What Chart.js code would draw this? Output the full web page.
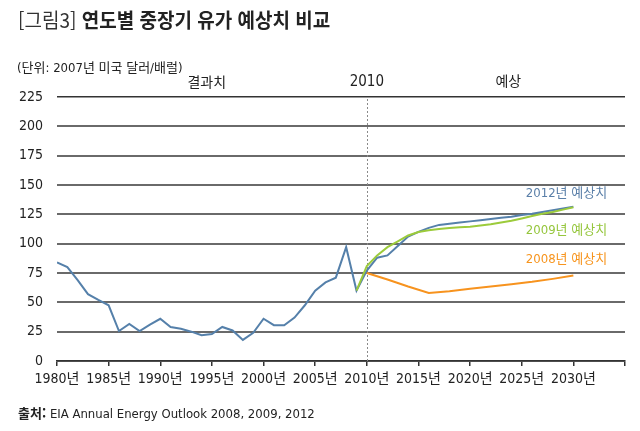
<!DOCTYPE html>
<html lang="ko">
<head>
<meta charset="utf-8">
<script src="https://cdn.jsdelivr.net/npm/chart.js@4.4.1/dist/chart.umd.min.js"></script>
<style>
html, body { margin: 0; padding: 0; background: #fff; }
#wrap { position: relative; width: 640px; height: 431px; overflow: hidden; }
#c { position: absolute; left: 0; top: 0; }
.txt { position: absolute; white-space: nowrap; transform-origin: 0 0; color: #222;
       font-family: "DejaVu Sans Condensed", "Noto Sans CJK KR", sans-serif; line-height: 1; }
#title { left: 18px; top: 10px; font-size: 20px; font-family: "Noto Sans CJK KR", sans-serif;
         font-weight: 700; transform: scaleX(0.95); }
#title span { font-weight: 400; color: #333; }
#unit { left: 17px; top: 61px; font-size: 13px; }
#src { left: 18px; top: 406px; font-size: 13px; }
#src b { font-family: "Noto Sans CJK KR", sans-serif; font-weight: 700; }
</style>
</head>
<body>
<div id="wrap">
  <canvas id="c" width="640" height="431"></canvas>
  <div class="txt" id="title"><span>[그림3]</span> 연도별 중장기 유가 예상치 비교</div>
  <div class="txt" id="unit">(단위: 2007년 미국 달러/배럴)</div>
  <div class="txt" id="src"><b>출처:</b> EIA Annual Energy Outlook 2008, 2009, 2012</div>
</div>
<script>
// 실적 + 2012년 예상치 (파란선)
const years2012 = [1980, 1981, 1982, 1983, 1984, 1985, 1986, 1987, 1988, 1989,
                   1990, 1991, 1992, 1993, 1994, 1995, 1996, 1997, 1998, 1999,
                   2000, 2001, 2002, 2003, 2004, 2005, 2006, 2007, 2008, 2009,
                   2010, 2011, 2012, 2013, 2014, 2015, 2016, 2017, 2018, 2019,
                   2020, 2021, 2022, 2023, 2024, 2025, 2026, 2027, 2028, 2029, 2030];
const price2012 = [84, 80, 69, 57, 52, 47.5, 25.5, 31.5, 25.5, 31,
                   36, 29, 27.5, 25, 22, 23, 29, 26, 18, 24,
                   36, 30.5, 30.5, 37, 47.5, 60, 67, 71, 97, 60,
                   77, 88, 90, 98, 106, 110, 113.5, 116, 117, 118,
                   119, 120, 121, 122, 123, 124.5, 125.5, 127, 128.5, 130, 131.5];

// 2009년 예상치 (초록선)
const years2009 = [2009, 2010, 2011, 2012, 2013, 2014, 2015, 2016, 2017, 2018, 2019,
                   2020, 2021, 2022, 2023, 2024, 2025, 2026, 2027, 2028, 2029, 2030];
const price2009 = [60, 81, 90, 97, 102, 107, 110, 111.5, 112.5, 113.3, 114,
                   114.5, 115.5, 116.5, 118, 119.5, 121.5, 123.5, 125.5, 127, 129, 131];

// 2008년 예상치 (주황선)
const years2008 = [2010, 2012, 2014, 2016, 2018, 2020, 2022, 2024, 2026, 2028, 2030];
const price2008 = [75, 69.5, 63.5, 58, 59.5, 61.5, 63.5, 65.5, 67.5, 70, 72.8];

const yTicks = [0, 25, 50, 75, 100, 125, 150, 175, 200, 225];

const NARROW = '"DejaVu Sans Condensed", "Noto Sans CJK KR", sans-serif';

function toPoints(xs, ys) {
    return xs.map((x, i) => ({ x: x, y: ys[i] }));
}

// 2010 점선, 주석 텍스트
const notesPlugin = {
    id: 'notes',
    beforeDatasetsDraw(chart) {
        const { ctx, chartArea, scales } = chart;
        const x10 = Math.round(scales.x.getPixelForValue(2010)) + 0.5;
        ctx.save();
        ctx.strokeStyle = '#8a8a8a';
        ctx.lineWidth = 1;
        ctx.setLineDash([2, 2]);
        ctx.beginPath();
        ctx.moveTo(x10, chartArea.top + 2);
        ctx.lineTo(x10, chartArea.bottom);
        ctx.stroke();
        ctx.restore();
    },
    afterDraw(chart) {
        const { ctx, chartArea, scales } = chart;
        const x = scales.x, y = scales.y;
        ctx.save();
        ctx.textBaseline = 'middle';
        ctx.fillStyle = '#222';
        ctx.textAlign = 'center';
        ctx.font = '14px ' + NARROW;
        ctx.fillText('결과치', x.getPixelForValue(1994.5), chartArea.top - 14);
        ctx.font = '15px ' + NARROW;
        ctx.fillText('2010', x.getPixelForValue(2010), chartArea.top - 15);
        ctx.font = '14px ' + NARROW;
        ctx.fillText('예상', x.getPixelForValue(2023.7), chartArea.top - 15);

        ctx.textAlign = 'left';
        ctx.font = '13px ' + NARROW;
        const lx = x.getPixelForValue(2025.4);
        ctx.fillStyle = '#5a7fa8';
        ctx.fillText('2012년 예상치', lx, y.getPixelForValue(142.3));
        ctx.fillStyle = '#95c63c';
        ctx.fillText('2009년 예상치', lx, y.getPixelForValue(111.3));
        ctx.fillStyle = '#f7941d';
        ctx.fillText('2008년 예상치', lx, y.getPixelForValue(86.2));
        ctx.restore();
    }
};

function drawChart() {
    const ctx = document.getElementById('c').getContext('2d');
    new Chart(ctx, {
        type: 'line',
        data: {
            datasets: [
                { label: '2008년 예상치', data: toPoints(years2008, price2008), borderColor: '#f7931e' },
                { label: '2009년 예상치', data: toPoints(years2009, price2009), borderColor: '#9ccb3b' },
                { label: '2012년 예상치', data: toPoints(years2012, price2012), borderColor: '#5580aa' }
            ]
        },
        options: {
            responsive: false,
            animation: false,
            layout: { padding: { left: 0, right: 15, top: 97, bottom: 45 } },
            plugins: { legend: { display: false }, tooltip: { enabled: false } },
            elements: {
                point: { radius: 0 },
                line: { tension: 0, borderWidth: 2, fill: false }
            },
            scales: {
                x: {
                    type: 'linear',
                    min: 1980,
                    max: 2035,
                    afterFit(s) { s.height = 25; },
                    grid: { drawOnChartArea: false, drawTicks: true, tickLength: 5, color: '#333', lineWidth: 1.5 },
                    border: { display: true, color: '#333', width: 1.5 },
                    ticks: {
                        stepSize: 5,
                        autoSkip: false,
                        maxRotation: 0,
                        padding: 5,
                        color: '#222',
                        font: { family: NARROW, size: 14 },
                        callback: v => (v === 2035 ? '' : v + '년')
                    }
                },
                y: {
                    min: 0,
                    max: 225,
                    afterFit(s) { s.width = 57; },
                    afterBuildTicks(s) { s.ticks = yTicks.map(v => ({ value: v })); },
                    border: { display: false },
                    grid: {
                        drawTicks: false,
                        color: c => (c.tick && c.tick.value === 225 ? '#333' : '#6a6a6a'),
                        lineWidth: c => (c.tick && c.tick.value === 225 ? 1.5 : 2)
                    },
                    ticks: { padding: 14, color: '#222', font: { family: NARROW, size: 14 } }
                }
            }
        },
        plugins: [notesPlugin]
    });
}

Promise.all([
    document.fonts.load('14px "DejaVu Sans Condensed"'),
    document.fonts.load('16px "Noto Sans CJK KR"'),
    document.fonts.load('bold 16px "Noto Sans CJK KR"')
]).then(drawChart, drawChart);
</script>
</body>
</html>
